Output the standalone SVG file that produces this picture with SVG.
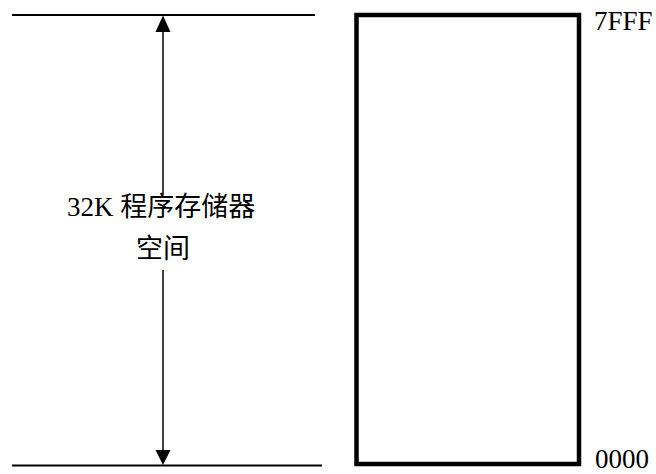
<svg xmlns="http://www.w3.org/2000/svg" width="656" height="474" viewBox="0 0 656 474">
<style>
.ln{stroke:#000;stroke-width:2;fill:none}
.sh{stroke:#000;stroke-width:1.5;fill:none}
.box{stroke:#000;stroke-width:4.5;fill:#fff}
.t{font-family:"Liberation Serif","Noto Sans CJK SC",serif;font-size:27px;fill:#000}
</style>
<rect width="656" height="474" fill="#fff"/>
<g id="connectors">
<line class="ln" x1="12" y1="15" x2="315" y2="15"/>
<line class="ln" x1="12" y1="465.5" x2="322" y2="465.5"/>
<line class="sh" x1="163" y1="30" x2="163" y2="195"/>
<line class="sh" x1="163" y1="270" x2="163" y2="451"/>
<polygon points="163,15.5 155.5,32 170.5,32" fill="#000"/>
<polygon points="163,465 155.5,450 170.5,450" fill="#000"/>
</g>
<g id="label">
<text class="t" x="67" y="216">32K 程序存储器</text>
<text class="t" x="163" y="258" text-anchor="middle">空间</text>
</g>
<g id="memory">
<rect class="box" x="356.5" y="15" width="222.5" height="449"/>
<text class="t" x="594" y="30">7FFF</text>
<text class="t" x="595" y="468">0000</text>
</g>
</svg>
